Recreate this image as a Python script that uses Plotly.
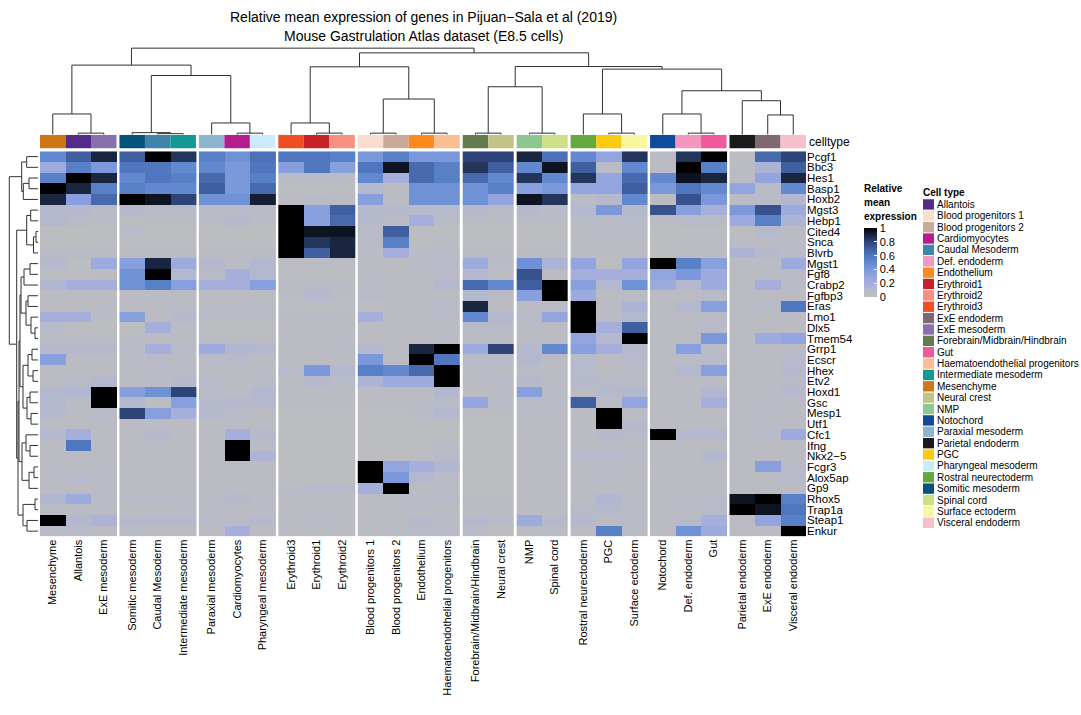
import plotly.graph_objects as go

W, H = 1081, 715

title_lines = ["Relative mean expression of genes in Pijuan\u2212Sala et al (2019)",
               "Mouse Gastrulation Atlas dataset (E8.5 cells)"]

genes = ["Pcgf1", "Bbc3", "Hes1", "Basp1", "Hoxb2", "Mgst3", "Hebp1", "Cited4", "Snca", "Blvrb",
         "Mgst1", "Fgf8", "Crabp2", "Fgfbp3", "Eras", "Lmo1", "Dlx5", "Tmem54", "Grrp1", "Ecscr",
         "Hhex", "Etv2", "Hoxd1", "Gsc", "Mesp1", "Utf1", "Cfc1", "Ifng", "Nkx2\u22125", "Fcgr3",
         "Alox5ap", "Gp9", "Rhox5", "Trap1a", "Steap1", "Enkur"]

celltypes = ["Mesenchyme", "Allantois", "ExE mesoderm",
             "Somitic mesoderm", "Caudal Mesoderm", "Intermediate mesoderm",
             "Paraxial mesoderm", "Cardiomyocytes", "Pharyngeal mesoderm",
             "Erythroid3", "Erythroid1", "Erythroid2",
             "Blood progenitors 1", "Blood progenitors 2", "Endothelium", "Haematoendothelial progenitors",
             "Forebrain/Midbrain/Hindbrain", "Neural crest",
             "NMP", "Spinal cord",
             "Rostral neurectoderm", "PGC", "Surface ectoderm",
             "Notochord", "Def. endoderm", "Gut",
             "Parietal endoderm", "ExE endoderm", "Visceral endoderm"]

slice_sizes = [3, 3, 3, 3, 4, 2, 2, 3, 3, 3]

legend_types = ["Allantois", "Blood progenitors 1", "Blood progenitors 2", "Cardiomyocytes",
                "Caudal Mesoderm", "Def. endoderm", "Endothelium", "Erythroid1", "Erythroid2",
                "Erythroid3", "ExE endoderm", "ExE mesoderm", "Forebrain/Midbrain/Hindbrain", "Gut",
                "Haematoendothelial progenitors", "Intermediate mesoderm", "Mesenchyme",
                "Neural crest", "NMP", "Notochord", "Paraxial mesoderm", "Parietal endoderm", "PGC",
                "Pharyngeal mesoderm", "Rostral neurectoderm", "Somitic mesoderm", "Spinal cord",
                "Surface ectoderm", "Visceral endoderm"]
legend_colors = ["#532C8A", "#F9DECF", "#C9A997", "#B51D8D", "#3F84AA", "#F397C0", "#FF891C",
                 "#C72228", "#F79083", "#EF4E22", "#7F6874", "#8870AD", "#647A4F", "#EF5A9D",
                 "#FBBE92", "#139992", "#CC7818", "#C3C388", "#8EC792", "#0F4A9C", "#8DB5CE",
                 "#1A1A1A", "#FACB12", "#C9EBFB", "#65A83E", "#005579", "#CDE088", "#F7F79E",
                 "#F6BFCB"]

# rows = genes, columns = celltypes (in column order above)
values = [
    [0.50,0.70,0.90, 0.70,1.00,0.85, 0.55,0.45,0.62, 0.60,0.60,0.55, 0.40,0.55,0.40,0.40, 0.80,0.80, 0.90,0.62, 0.50,0.30,0.85, 0.03,0.85,1.00, 0.02,0.65,0.80],
    [0.25,0.55,0.40, 0.60,0.60,0.50, 0.50,0.40,0.60, 0.35,0.60,0.35, 0.60,0.95,0.65,0.55, 0.85,0.70, 0.50,0.95, 0.70,0.05,0.50, 0.03,1.00,0.55, 0.03,0.15,0.70],
    [0.55,1.00,0.90, 0.50,0.60,0.55, 0.65,0.40,0.55, 0.05,0.05,0.05, 0.50,0.20,0.65,0.55, 0.65,0.50, 0.85,0.50, 0.85,0.30,0.65, 0.50,0.95,0.90, 0.03,0.30,0.90],
    [1.00,0.90,0.55, 0.55,0.50,0.50, 0.70,0.40,0.65, 0.02,0.02,0.02, 0.10,0.03,0.45,0.45, 0.45,0.55, 0.35,0.40, 0.30,0.30,0.70, 0.40,0.60,0.50, 0.30,0.05,0.50],
    [0.90,0.35,0.65, 1.00,0.95,0.80, 0.45,0.45,0.92, 0.03,0.06,0.03, 0.35,0.03,0.45,0.45, 0.45,0.30, 0.95,0.85, 0.05,0.08,0.50, 0.03,0.75,0.40, 0.05,0.05,0.12],
    [0.10,0.08,0.05, 0.08,0.06,0.06, 0.06,0.06,0.05, 1.00,0.35,0.70, 0.08,0.08,0.07,0.07, 0.08,0.05, 0.08,0.05, 0.10,0.40,0.08, 0.75,0.35,0.20, 0.40,0.75,0.25],
    [0.10,0.06,0.03, 0.02,0.03,0.03, 0.05,0.08,0.03, 1.00,0.35,0.65, 0.08,0.05,0.20,0.05, 0.04,0.03, 0.03,0.03, 0.04,0.04,0.07, 0.03,0.06,0.06, 0.25,0.55,0.15],
    [0.02,0.02,0.02, 0.05,0.02,0.02, 0.02,0.02,0.02, 1.00,0.95,0.95, 0.06,0.70,0.02,0.02, 0.02,0.02, 0.02,0.02, 0.03,0.06,0.04, 0.02,0.02,0.02, 0.02,0.08,0.04],
    [0.02,0.02,0.02, 0.02,0.02,0.02, 0.02,0.02,0.02, 1.00,0.85,0.90, 0.06,0.55,0.02,0.03, 0.02,0.02, 0.02,0.02, 0.03,0.03,0.03, 0.02,0.03,0.03, 0.05,0.03,0.03],
    [0.06,0.06,0.03, 0.03,0.03,0.03, 0.03,0.03,0.03, 1.00,0.70,0.90, 0.05,0.20,0.05,0.05, 0.03,0.03, 0.03,0.03, 0.04,0.03,0.03, 0.02,0.03,0.03, 0.15,0.08,0.05],
    [0.08,0.02,0.25, 0.35,0.90,0.25, 0.08,0.05,0.10, 0.03,0.03,0.03, 0.03,0.03,0.05,0.06, 0.25,0.05, 0.45,0.15, 0.30,0.02,0.30, 1.00,0.55,0.35, 0.03,0.05,0.25],
    [0.02,0.02,0.03, 0.45,1.00,0.10, 0.06,0.20,0.10, 0.02,0.02,0.02, 0.03,0.03,0.03,0.06, 0.10,0.02, 0.75,0.03, 0.20,0.20,0.20, 0.30,0.40,0.25, 0.03,0.03,0.06],
    [0.12,0.20,0.20, 0.45,0.55,0.35, 0.20,0.20,0.35, 0.03,0.06,0.04, 0.05,0.03,0.03,0.10, 0.65,0.50, 0.70,1.00, 0.35,0.10,0.45, 0.25,0.10,0.25, 0.03,0.20,0.05],
    [0.03,0.03,0.03, 0.03,0.05,0.03, 0.03,0.03,0.03, 0.03,0.08,0.03, 0.06,0.03,0.03,0.03, 0.10,0.03, 0.35,1.00, 0.25,0.03,0.05, 0.03,0.03,0.06, 0.03,0.03,0.03],
    [0.03,0.03,0.03, 0.03,0.03,0.03, 0.03,0.03,0.03, 0.02,0.02,0.02, 0.02,0.04,0.03,0.06, 0.90,0.03, 0.03,0.05, 1.00,0.03,0.15, 0.03,0.10,0.35, 0.03,0.06,0.60],
    [0.20,0.20,0.05, 0.35,0.03,0.08, 0.05,0.05,0.05, 0.03,0.06,0.03, 0.20,0.03,0.03,0.06, 0.50,0.10, 0.06,0.30, 1.00,0.03,0.10, 0.03,0.03,0.06, 0.03,0.03,0.03],
    [0.07,0.02,0.02, 0.02,0.20,0.03, 0.02,0.02,0.02, 0.03,0.03,0.03, 0.03,0.03,0.03,0.03, 0.06,0.06, 0.03,0.03, 1.00,0.20,0.70, 0.03,0.03,0.06, 0.03,0.03,0.03],
    [0.03,0.03,0.03, 0.03,0.03,0.03, 0.03,0.03,0.03, 0.03,0.03,0.03, 0.03,0.03,0.03,0.03, 0.03,0.03, 0.03,0.03, 0.30,0.10,1.00, 0.03,0.03,0.40, 0.03,0.25,0.30],
    [0.08,0.08,0.08, 0.05,0.20,0.07, 0.25,0.12,0.10, 0.03,0.03,0.05, 0.10,0.03,0.90,1.00, 0.25,0.80, 0.08,0.50, 0.35,0.20,0.08, 0.03,0.35,0.05, 0.03,0.03,0.03],
    [0.35,0.03,0.03, 0.05,0.06,0.04, 0.06,0.06,0.03, 0.03,0.03,0.03, 0.40,0.03,1.00,0.60, 0.06,0.06, 0.10,0.03, 0.07,0.03,0.07, 0.03,0.05,0.07, 0.03,0.03,0.07],
    [0.03,0.03,0.03, 0.03,0.04,0.04, 0.03,0.03,0.03, 0.07,0.40,0.10, 0.55,0.50,0.65,1.00, 0.03,0.03, 0.03,0.03, 0.07,0.03,0.03, 0.03,0.10,0.35, 0.03,0.03,0.08],
    [0.03,0.06,0.10, 0.03,0.05,0.08, 0.06,0.03,0.05, 0.03,0.08,0.05, 0.15,0.25,0.25,1.00, 0.03,0.06, 0.08,0.03, 0.08,0.06,0.05, 0.03,0.03,0.05, 0.03,0.03,0.06],
    [0.10,0.12,1.00, 0.35,0.45,0.80, 0.06,0.05,0.10, 0.03,0.03,0.03, 0.03,0.03,0.03,0.12, 0.03,0.03, 0.35,0.05, 0.03,0.08,0.10, 0.03,0.03,0.12, 0.03,0.03,0.08],
    [0.10,0.03,1.00, 0.10,0.02,0.35, 0.08,0.08,0.10, 0.03,0.03,0.03, 0.03,0.03,0.03,0.05, 0.30,0.06, 0.06,0.05, 0.70,0.03,0.30, 0.03,0.03,0.20, 0.03,0.05,0.03],
    [0.08,0.03,0.06, 0.80,0.35,0.20, 0.08,0.06,0.03, 0.02,0.02,0.02, 0.02,0.02,0.05,0.10, 0.03,0.03, 0.05,0.03, 0.03,1.00,0.03, 0.03,0.03,0.03, 0.03,0.03,0.03],
    [0.03,0.03,0.03, 0.03,0.03,0.03, 0.03,0.03,0.03, 0.02,0.02,0.02, 0.02,0.02,0.02,0.02, 0.02,0.02, 0.03,0.03, 0.03,1.00,0.08, 0.03,0.03,0.03, 0.03,0.05,0.03],
    [0.10,0.20,0.03, 0.03,0.08,0.03, 0.03,0.20,0.08, 0.02,0.02,0.02, 0.02,0.02,0.02,0.02, 0.02,0.02, 0.03,0.03, 0.03,0.08,0.07, 1.00,0.10,0.10, 0.03,0.07,0.25],
    [0.03,0.60,0.03, 0.03,0.03,0.03, 0.03,1.00,0.04, 0.02,0.02,0.02, 0.02,0.02,0.02,0.04, 0.02,0.02, 0.03,0.03, 0.03,0.03,0.03, 0.03,0.03,0.03, 0.03,0.03,0.03],
    [0.03,0.03,0.03, 0.03,0.03,0.03, 0.03,1.00,0.15, 0.02,0.02,0.02, 0.02,0.02,0.02,0.06, 0.02,0.02, 0.03,0.03, 0.07,0.07,0.06, 0.03,0.03,0.10, 0.03,0.03,0.03],
    [0.03,0.03,0.03, 0.03,0.03,0.03, 0.03,0.03,0.03, 0.02,0.02,0.02, 1.00,0.30,0.20,0.12, 0.02,0.02, 0.03,0.03, 0.03,0.03,0.03, 0.03,0.03,0.03, 0.03,0.35,0.06],
    [0.05,0.07,0.05, 0.03,0.03,0.03, 0.03,0.03,0.03, 0.02,0.02,0.02, 1.00,0.40,0.10,0.05, 0.02,0.02, 0.03,0.03, 0.03,0.05,0.03, 0.03,0.03,0.03, 0.03,0.03,0.07],
    [0.03,0.03,0.03, 0.03,0.03,0.03, 0.03,0.03,0.03, 0.05,0.06,0.06, 0.20,1.00,0.03,0.03, 0.02,0.02, 0.03,0.03, 0.03,0.03,0.03, 0.03,0.03,0.03, 0.03,0.03,0.03],
    [0.12,0.25,0.05, 0.06,0.06,0.05, 0.05,0.08,0.05, 0.03,0.03,0.03, 0.03,0.03,0.06,0.06, 0.03,0.03, 0.03,0.03, 0.03,0.12,0.05, 0.03,0.05,0.07, 0.95,1.00,0.55],
    [0.03,0.03,0.03, 0.03,0.03,0.03, 0.03,0.03,0.03, 0.03,0.04,0.03, 0.03,0.03,0.04,0.03, 0.03,0.03, 0.03,0.03, 0.06,0.08,0.03, 0.03,0.03,0.06, 1.00,0.95,0.60],
    [1.00,0.10,0.15, 0.08,0.08,0.08, 0.06,0.06,0.08, 0.03,0.05,0.03, 0.03,0.03,0.08,0.04, 0.08,0.06, 0.25,0.08, 0.08,0.03,0.06, 0.03,0.06,0.20, 0.03,0.30,0.55],
    [0.06,0.06,0.03, 0.05,0.03,0.03, 0.03,0.20,0.03, 0.03,0.03,0.03, 0.03,0.03,0.06,0.06, 0.05,0.02, 0.03,0.05, 0.03,0.55,0.05, 0.03,0.45,0.25, 0.03,0.03,1.00],
]

# dendrograms: (left, right, merge height); integers are leaf indices
col_tree = (
    ((0, (1, 2, 1.5), 20.7),
     ((3, (4, 5, 1.0), 2.0), (6, (7, 8, 1.5), 11.7), 59.3), 69.7),
    (((9, (10, 11, 1.5), 11.7), ((12, 13, 1.5), (14, 15, 1.5), 35.7), 68.0),
     (((16, 17, 1.5), (18, 19, 1.5), 48.0),
      ((20, (21, 22, 1.5), 20.7),
       ((23, (24, 25, 1.5), 20.7), (26, (27, 28, 19.7), 34.0), 44.0), 65.7), 68.3), 82.0),
    86.7)

row_tree = (
    ((0, 1, 11.3), ((2, 3, 9.0), 4, 14.7), 16.3),
    (((5, 6, 7.3), ((7, 8, 2.0), 9, 4.5), 11.3),
     ((((((10, 11, 8.0), 12, 14.0), ((13, 14, 10.0), (15, (16, 17, 3.0), 7.0), 12.0), 17.0),
         (((18, 19, 6.0), (20, 21, 5.0), 10.0), ((22, 23, 8.0), (24, 25, 7.0), 11.0), 15.0), 18.0),
        ((26, (27, 28, 8.0), 12.0), ((29, 30, 4.0), 31, 9.0), 16.0), 19.0),
       ((32, 33, 3.0), (34, 35, 11.0), 15.0), 20.0), 21.3),
    28.7)

colorscale = [[0.0, "#BEBEBE"], [0.1, "#B4B8CF"], [0.2, "#A6AEDB"], [0.3, "#93A5DE"],
              [0.4, "#7B98DA"], [0.5, "#6289D0"], [0.6, "#4F76BE"], [0.7, "#3F5FA0"],
              [0.8, "#2E4478"], [0.9, "#1A2540"], [1.0, "#000000"]]

FONT = "Liberation Sans, Arial, Helvetica, sans-serif"

assert all(len(r) == len(celltypes) for r in values)
assert sum(slice_sizes) == len(celltypes)

# column positions (unit width, small gap between slices)
gap = 0.115
pos = []
j = 0
for s, n in enumerate(slice_sizes):
    for _ in range(n):
        pos.append(j + 0.5 + gap * s)
        j += 1
xmax = len(celltypes) + gap * (len(slice_sizes) - 1)
color_of = dict(zip(legend_types, legend_colors))


def px_x(v):
    return v / W


def px_y(v):
    return 1 - v / H


def dendro_segments(tree, leafpos):
    segs = []

    def rec(n):
        if isinstance(n, int):
            return leafpos[n], 0.0
        l, r, h = n
        xl, hl = rec(l)
        xr, hr = rec(r)
        segs.append([(xl, hl), (xl, h), (xr, h), (xr, hr)])
        return (xl + xr) / 2, h

    rec(tree)
    return segs


fig = go.Figure()

# heatmap slices
start = 0
for s, n in enumerate(slice_sizes):
    idx = list(range(start, start + n))
    fig.add_trace(go.Heatmap(
        x=[pos[i] for i in idx], y=list(range(len(genes))),
        z=[[values[r][i] for i in idx] for r in range(len(genes))],
        coloraxis="coloraxis", xaxis="x", yaxis="y", showscale=False,
        hovertemplate="%{z}<extra></extra>"))
    start += n

# annotation bar
fig.add_trace(go.Bar(x=pos, y=[1] * len(celltypes), width=1.0,
                     marker=dict(color=[color_of[c] for c in celltypes], line=dict(width=0)),
                     xaxis="x", yaxis="y2", showlegend=False, hoverinfo="skip"))

# column dendrogram
xs, ys = [], []
for seg in dendro_segments(col_tree, pos):
    for (a, b) in seg:
        xs.append(a)
        ys.append(b)
    xs.append(None)
    ys.append(None)
fig.add_trace(go.Scatter(x=xs, y=ys, mode="lines", line=dict(color="#303030", width=1),
                         xaxis="x", yaxis="y3", showlegend=False, hoverinfo="skip"))

# row dendrogram
xs, ys = [], []
for seg in dendro_segments(row_tree, list(range(len(genes)))):
    for (a, b) in seg:
        ys.append(a)
        xs.append(b)
    xs.append(None)
    ys.append(None)
fig.add_trace(go.Scatter(x=xs, y=ys, mode="lines", line=dict(color="#303030", width=1),
                         xaxis="x2", yaxis="y", showlegend=False, hoverinfo="skip"))

annotations = []
for k, t in enumerate(title_lines):
    annotations.append(dict(text=t, x=px_x(423), y=px_y(16 + 19 * k), xref="paper", yref="paper",
                             xanchor="center", yanchor="middle", showarrow=False,
                             font=dict(size=14, color="black", family=FONT)))
annotations.append(dict(text="celltype", x=px_x(807), y=px_y(141), xref="paper", yref="paper",
                        xanchor="left", yanchor="middle", showarrow=False,
                        font=dict(size=12, color="black", family=FONT)))
for k, t in enumerate(["Relative", "mean", "expression"]):
    annotations.append(dict(text="<b>%s</b>" % t, x=px_x(862), y=px_y(188 + 14 * k),
                            xref="paper", yref="paper", xanchor="left", yanchor="middle",
                            showarrow=False, font=dict(size=10, color="black", family=FONT)))
annotations.append(dict(text="<b>Cell type</b>", x=px_x(921), y=px_y(192), xref="paper", yref="paper",
                        xanchor="left", yanchor="middle", showarrow=False,
                        font=dict(size=10, color="black", family=FONT)))
shapes = []
for k, (t, c) in enumerate(zip(legend_types, legend_colors)):
    yc = 204 + 11.4 * k
    shapes.append(dict(type="rect", xref="paper", yref="paper", x0=px_x(923), x1=px_x(934),
                       y0=px_y(yc + 5.2), y1=px_y(yc - 5.2), fillcolor=c, line=dict(width=0)))
    annotations.append(dict(text=t, x=px_x(935), y=px_y(yc), xref="paper", yref="paper",
                            xanchor="left", yanchor="middle", showarrow=False,
                            font=dict(size=10, color="black", family=FONT)))

fig.update_layout(
    width=W, height=H, autosize=False,
    margin=dict(l=0, r=0, t=0, b=0),
    paper_bgcolor="white", plot_bgcolor="white",
    font=dict(family=FONT, color="black"),
    showlegend=False,
    annotations=annotations, shapes=shapes,
    coloraxis=dict(
        colorscale=colorscale, cmin=0, cmax=1,
        colorbar=dict(x=px_x(864), xanchor="left", y=px_y(297), yanchor="bottom",
                      len=69, lenmode="pixels", thickness=13, thicknessmode="pixels",
                      xpad=0, ypad=0, outlinewidth=0,
                      tickvals=[0, 0.2, 0.4, 0.6, 0.8, 1], ticktext=["0", "0.2", "0.4", "0.6", "0.8", "1"],
                      ticks="inside", ticklen=3, tickcolor="white",
                      tickfont=dict(size=11, family=FONT, color="black"))),
    xaxis=dict(domain=[px_x(40), px_x(806)], range=[0, xmax], anchor="y",
               tickvals=pos, ticktext=celltypes, tickangle=-90, showgrid=False, zeroline=False,
               showline=False, ticks="", tickfont=dict(size=11, family=FONT, color="black")),
    yaxis=dict(domain=[px_y(537), px_y(150.7)], range=[len(genes) - 0.5, -0.5], anchor="x",
               side="right", tickvals=list(range(len(genes))), ticktext=genes, showgrid=False,
               zeroline=False, showline=False, ticks="", tickfont=dict(size=11.5, family=FONT, color="black")),
    yaxis2=dict(domain=[px_y(148), px_y(134)], range=[0, 1], anchor="x", visible=False),
    yaxis3=dict(domain=[px_y(134), px_y(40)], range=[0, 94], anchor="x", visible=False),
    xaxis2=dict(domain=[0, px_x(38)], range=[38, 0], anchor="y", visible=False),
)

fig.write_html("out.html", config={"displayModeBar": False},
               post_script="document.body.style.margin='0';")
